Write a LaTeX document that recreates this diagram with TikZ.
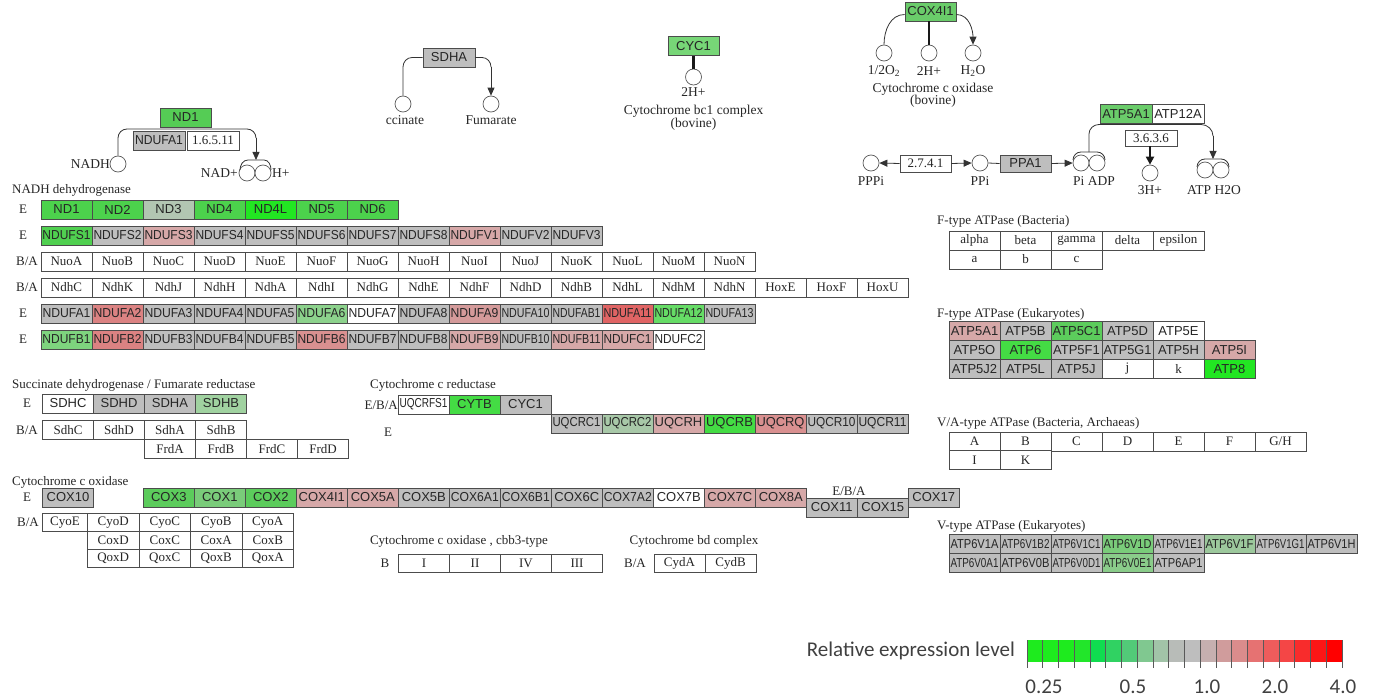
\documentclass[tikz,border=0pt]{standalone}
\usepackage{fontspec}
\usepackage{graphicx}
\setmainfont{Liberation Serif}
\newfontfamily\gsans{Liberation Sans}
\newfontfamily\lgdfont{Carlito}
\usetikzlibrary{arrows.meta}
\newcommand\fitw[1]{\sbox0{#1}\ifdim\wd0>48pt\relax\resizebox{48pt}{\height}{#1}\else#1\fi}
\newcommand\serf{\fontsize{13}{13}\selectfont}
\newcommand\cpdf{\fontsize{13.5}{13.5}\selectfont}
\definecolor{cGr}{HTML}{BEBEBE}
\definecolor{cG}{HTML}{4CD24C}
\definecolor{cGB}{HTML}{22E622}
\definecolor{cGB2}{HTML}{44DC44}
\definecolor{cG2}{HTML}{50D050}
\definecolor{cG3}{HTML}{66DC66}
\definecolor{cG4}{HTML}{5CCC5C}
\definecolor{cG5}{HTML}{7ACC7A}
\definecolor{cGL}{HTML}{8CD28C}
\definecolor{cGL2}{HTML}{7ED47E}
\definecolor{cGL3}{HTML}{A0D2A0}
\definecolor{cGL4}{HTML}{8ACC8A}
\definecolor{cGG}{HTML}{B2C6B2}
\definecolor{cGG2}{HTML}{A8C8A8}
\definecolor{cGG3}{HTML}{9CC89C}
\definecolor{cP}{HTML}{D6A8A8}
\definecolor{cP2}{HTML}{D49A9A}
\definecolor{cP3}{HTML}{D99090}
\definecolor{cR1}{HTML}{DB8282}
\definecolor{cR2}{HTML}{E06464}
\definecolor{cT1}{HTML}{55CC55}
\definecolor{cT2}{HTML}{77D677}
\definecolor{cT3}{HTML}{6ACC6A}
\newcommand\boxrow[6]{%
  \foreach \gname/\gcol [count=\gi from 0] in {#6} {%
    \node[#5, fill=\gcol, minimum width=#4pt] (#1\gi) at ({#2+#4/2+#4*\gi},#3) {\fitw{\gname}};
  }}
\begin{document}
\begin{tikzpicture}[x=1pt,y=-1pt,
  gbox/.style={draw=black!70, line width=0.8pt, minimum width=51pt, minimum height=19pt, inner sep=0pt, text=black!85, font=\gsans\fontsize{13}{13}\selectfont},
  wbox/.style={gbox, fill=white, font=\serf},
  lbl/.style={inner sep=0pt, text=black!85, font=\serf},
  clbl/.style={inner sep=0pt, text=black!85, font=\cpdf},
  cpd/.style={circle, draw=black!65, line width=0.7pt, minimum size=16pt, inner sep=0pt, fill=white},
  rxn/.style={draw=black!80, line width=0.8pt},
  arr/.style={-{Triangle[length=8pt,width=7pt]}},
  thk/.style={draw=black!90, line width=2.2pt}]
\useasboundingbox (0,0) rectangle (1373,698);

% ---------- NADH reaction ----------
\node[gbox, fill=cT1] (tND1) at (185.5,117.5) {ND1};
\node[gbox, fill=cGr, minimum width=52pt] (tNDUFA1) at (159,140.5) {\fitw{NDUFA1}};
\node[wbox, minimum width=52pt] (tEC1) at (213,140.5) {1.6.5.11};
\node[cpd] (cNADH) at (118,164) {};
\node[clbl, anchor=east] (lNADH) at (110,164) {NADH};
\node[cpd] (cNAD) at (247,173) {};
\node[cpd] (cH1) at (263,173) {};
\node[clbl, anchor=east] (lNAD) at (238,173) {NAD+};
\node[clbl, anchor=west] (lH1) at (272,173) {H+};
\coordinate (nA) at (256,138);
\coordinate (nB) at (256,160);
\draw[rxn] (cNADH.north) -- (118,138) to[out=90,in=180] (127,129) -- (247,129) to[out=0,in=90] (nA);
\draw[rxn,arr] (nA) -- (nB);
\draw[rxn] (240,170) to[out=90,in=180] (248,160) -- (264,160) to[out=0,in=90] (271,170);

% ---------- SDHA reaction ----------
\node[gbox, fill=cGr, minimum width=52pt] (tSDHA) at (449,57.5) {SDHA};
\node[cpd] (cSuc) at (403,104) {};
\node[cpd] (cFum) at (491,104) {};
\node[clbl] (lSuc) at (405,120) {ccinate};
\node[clbl] (lFum) at (491,120) {Fumarate};
\coordinate (sA) at (491,67);
\draw[rxn] (cSuc.north) -- (403,67) to[out=90,in=180] (412,57.5) -- (tSDHA.west);
\draw[rxn] (tSDHA.east) -- (482,57.5) to[out=0,in=90] (sA);
\draw[rxn,arr] (sA) -- (cFum.north);

% ---------- CYC1 ----------
\node[gbox, fill=cT2] (tCYC1) at (693.5,46) {CYC1};
\node[cpd] (c2H1) at (693.5,77) {};
\draw[thk] (tCYC1.south) -- (c2H1.north);
\node[clbl] (l2H1) at (693.5,92) {2H+};
\node[clbl] (lbc1) at (693.5,111) {Cytochrome bc1 complex};
\node[clbl] (lbov1) at (693.5,124) {(bovine)};

% ---------- COX4I1 ----------
\node[gbox, fill=cT3] (tCOX4) at (930.5,11.5) {COX4I1};
\node[cpd] (cO2) at (884,53) {};
\node[cpd] (c2H2) at (929,53) {};
\node[cpd] (cH2O) at (973,53) {};
\node[clbl] (lO2) at (884,71) {1/2O\textsubscript{2}};
\node[clbl] (l2H2) at (929,71) {2H+};
\node[clbl] (lH2O) at (973,71) {H\textsubscript{2}O};
\node[clbl] (lcox) at (933,89) {Cytochrome c oxidase};
\node[clbl] (lbov2) at (933,101) {(bovine)};
\draw[rxn] ([yshift=-3pt]tCOX4.west) to[out=180,in=90] (cO2.north);
\draw[thk] (tCOX4.south -| c2H2) -- (c2H2.north);
\draw[rxn,arr] ([yshift=-3pt]tCOX4.east) to[out=0,in=90] (cH2O.north);

% ---------- ATP synthesis ----------
\node[cpd] (cPPPi) at (871,163) {};
\node[clbl] (lPPPi) at (871,181) {PPPi};
\node[wbox, minimum height=17pt] (tEC2) at (925.5,163.5) {2.7.4.1};
\node[cpd] (cPPi) at (980,163) {};
\node[clbl] (lPPi) at (980,181) {PPi};
\node[gbox, fill=cGr, minimum height=17pt] (tPPA1) at (1025.5,163.5) {PPA1};
\node[cpd] (cPi) at (1081,163) {};
\node[cpd] (cADP) at (1097,163) {};
\node[clbl] (lPiADP) at (1094,181) {Pi ADP};
\node[gbox, fill=cT3, minimum width=52pt] (tATP5A1) at (1126,114) {\fitw{ATP5A1}};
\node[gbox, fill=white, minimum width=52pt] (tATP12A) at (1178,114) {\fitw{ATP12A}};
\node[wbox, minimum height=16pt, minimum width=52pt] (tEC3) at (1151,138) {3.6.3.6};
\node[cpd] (c3H) at (1150,173) {};
\node[clbl] (l3H) at (1150,190) {3H+};
\node[cpd] (cATP) at (1205,170) {};
\node[cpd] (cH2Ob) at (1221,170) {};
\node[clbl] (lATPH2O) at (1214,190) {ATP H2O};
\draw[rxn,arr] (tEC2.west) -- (cPPPi.east);
\draw[rxn,arr] (tEC2.east) -- (cPPi.west);
\draw[rxn] (cPPi.east) -- (tPPA1.west);
\draw[rxn,arr] (tPPA1.east) -- (cPi.west);
\coordinate (aA) at (1089,152);
\coordinate (aB) at (1213,136);
\coordinate (aC) at (1213,159);
\draw[rxn] (1073,160) to[out=90,in=180] (1081,152) -- (1097,152) to[out=0,in=90] (1105,160);
\draw[rxn] (aA) -- (1089,134) to[out=90,in=180] (1099,124.5) -- (1201,124.5) to[out=0,in=90] (aB);
\draw[rxn,arr] (aB) -- (aC);
\draw[rxn] (1197,167) to[out=90,in=180] (1205,159) -- (1221,159) to[out=0,in=90] (1229,167);
\draw[thk, -{Triangle[length=8pt,width=8pt]}] (tEC3.south -| c3H) -- (c3H.north);

% ---------- NADH dehydrogenase table ----------
\node[lbl, anchor=west] (hNADH) at (12,190) {NADH dehydrogenase};
\node[lbl] (rl1) at (23,209.5) {E};
\node[lbl] (rl2) at (23,235.5) {E};
\node[lbl] (rl3) at (27,261.5) {B/A};
\node[lbl] (rl4) at (27,287.5) {B/A};
\node[lbl] (rl5) at (23,313.5) {E};
\node[lbl] (rl6) at (23,339.5) {E};
\boxrow{nda}{41}{209.5}{51}{gbox}{ND1/cG, ND2/cG, ND3/cGG, ND4/cG, ND4L/cGB, ND5/cG, ND6/cG}
\boxrow{ndb}{41}{235.5}{51}{gbox}{NDUFS1/cG2, NDUFS2/cGr, NDUFS3/cP, NDUFS4/cGr, NDUFS5/cGr, NDUFS6/cGr, NDUFS7/cGr, NDUFS8/cGr, NDUFV1/cP, NDUFV2/cGr, NDUFV3/cGr}
\boxrow{ndc}{41}{261.5}{51}{wbox}{NuoA/white, NuoB/white, NuoC/white, NuoD/white, NuoE/white, NuoF/white, NuoG/white, NuoH/white, NuoI/white, NuoJ/white, NuoK/white, NuoL/white, NuoM/white, NuoN/white}
\boxrow{ndd}{41}{287.5}{51}{wbox}{NdhC/white, NdhK/white, NdhJ/white, NdhH/white, NdhA/white, NdhI/white, NdhG/white, NdhE/white, NdhF/white, NdhD/white, NdhB/white, NdhL/white, NdhM/white, NdhN/white, HoxE/white, HoxF/white, HoxU/white}
\boxrow{nde}{41}{313.5}{51}{gbox}{NDUFA1/cGr, NDUFA2/cR1, NDUFA3/cGr, NDUFA4/cGr, NDUFA5/cGr, NDUFA6/cGL, NDUFA7/white, NDUFA8/cGr, NDUFA9/cP2, NDUFA10/cGr, NDUFAB1/cGr, NDUFA11/cR2, NDUFA12/cG3, NDUFA13/cGr}
\boxrow{ndf}{41}{339.5}{51}{gbox}{NDUFB1/cGL2, NDUFB2/cR1, NDUFB3/cGr, NDUFB4/cGr, NDUFB5/cGr, NDUFB6/cP3, NDUFB7/cGr, NDUFB8/cGr, NDUFB9/cP, NDUFB10/cGr, NDUFB11/cP, NDUFC1/cP, NDUFC2/white}

% ---------- Succinate dehydrogenase ----------
\node[lbl, anchor=west] (hSDH) at (12,385) {Succinate dehydrogenase / Fumarate reductase};
\node[lbl] (sl1) at (27,403.5) {E};
\node[lbl] (sl2) at (27,430) {B/A};
\boxrow{sda}{42.5}{403.5}{51}{gbox}{SDHC/white, SDHD/cGr, SDHA/cGr, SDHB/cGL3}
\boxrow{sdb}{42.5}{430}{51}{wbox}{SdhC/white, SdhD/white, SdhA/white, SdhB/white}
\boxrow{sdc}{144.5}{449}{51}{wbox}{FrdA/white, FrdB/white, FrdC/white, FrdD/white}

% ---------- Cytochrome c reductase ----------
\node[lbl, anchor=west] (hRED) at (370,385) {Cytochrome c reductase};
\node[lbl, anchor=east] (ql1) at (398,405) {E/B/A};
\node[lbl] (ql2) at (388,432) {E};
\boxrow{qra}{398}{404.5}{51}{gbox}{UQCRFS1/white, CYTB/cGB2, CYC1/cGr}
\boxrow{qrb}{551}{423.5}{51}{gbox}{UQCRC1/cGr, UQCRC2/cGG2, UQCRH/cP, UQCRB/cGB2, UQCRQ/cP3, UQCR10/cGr, UQCR11/cGr}

% ---------- Cytochrome c oxidase ----------
\node[lbl, anchor=west] (hCOX) at (12,482) {Cytochrome c oxidase};
\node[lbl] (xl1) at (27,497.5) {E};
\node[lbl] (xl2) at (28,522.5) {B/A};
\node[gbox, fill=cGr] (cox10) at (68,497.5) {COX10};
\boxrow{cxa}{143.3}{497.5}{51}{gbox}{COX3/cG4, COX1/cG5, COX2/cG4, COX4I1/cP, COX5A/cP, COX5B/cGr, COX6A1/cGr, COX6B1/cGr, COX6C/cGr, COX7A2/cGr, COX7B/white, COX7C/cP, COX8A/cP}
\node[lbl] (xl3) at (849,491) {E/B/A};
\boxrow{cxb}{806.3}{507.5}{51}{gbox}{COX11/cGr, COX15/cGr}
\node[gbox, fill=cGr] (cox17) at (933.8,497.5) {COX17};
\node[wbox, minimum width=45pt, minimum height=18pt] (cyoE) at (65,522.5) {CyoE};
\boxrow{cya}{87.5}{522.5}{51.5}{wbox, minimum height=18pt}{CyoD/white, CyoC/white, CyoB/white, CyoA/white}
\boxrow{cyb}{87.5}{540.5}{51.5}{wbox, minimum height=18pt}{CoxD/white, CoxC/white, CoxA/white, CoxB/white}
\boxrow{cyc}{87.5}{558.5}{51.5}{wbox, minimum height=18pt}{QoxD/white, QoxC/white, QoxB/white, QoxA/white}

% ---------- cbb3 / bd ----------
\node[lbl] (hCBB) at (459,541) {Cytochrome c oxidase , cbb3-type};
\node[lbl] (bl1) at (385,563) {B};
\boxrow{cbb}{398.5}{563}{51}{wbox, minimum height=18pt}{I/white, II/white, IV/white, III/white}
\node[lbl] (hBD) at (694,541) {Cytochrome bd complex};
\node[lbl] (bl2) at (635,563) {B/A};
\boxrow{cyd}{654}{563}{51}{wbox, minimum height=18pt}{CydA/white, CydB/white}

% ---------- F-type ATPase ----------
\node[lbl, anchor=west] (hFB) at (937,221) {F-type ATPase (Bacteria)};
\boxrow{fba}{949}{240.5}{51}{wbox}{alpha/white, beta/white, gamma/white, delta/white, epsilon/white}
\boxrow{fbb}{949}{259.5}{51}{wbox}{a/white, b/white, c/white}
\node[lbl, anchor=west] (hFE) at (937,314) {F-type ATPase (Eukaryotes)};
\boxrow{fea}{949}{331}{51}{gbox}{ATP5A1/cP, ATP5B/cGr, ATP5C1/cG4, ATP5D/cGr, ATP5E/white}
\boxrow{feb}{949}{350}{51}{gbox}{ATP5O/cGr, ATP6/cGB2, ATP5F1/cGr, ATP5G1/cGr, ATP5H/cGr, ATP5I/cP}
\boxrow{fec}{949}{369}{51}{gbox}{ATP5J2/cGr, ATP5L/cGr, ATP5J/cGr}
\node[wbox] (fej) at (1127.5,369) {j};
\node[wbox] (fek) at (1178.5,369) {k};
\node[gbox, fill=cGB] (fe8) at (1229.5,369) {ATP8};

% ---------- V/A-type ATPase ----------
\node[lbl, anchor=west] (hVA) at (937,423) {V/A-type ATPase (Bacteria, Archaeas)};
\boxrow{vaa}{949}{441.5}{51}{wbox}{A/white, B/white, C/white, D/white, E/white, F/white}
\node[wbox] (vagh) at (1280.5,441.5) {G/H};
\boxrow{vab}{949}{460}{51}{wbox}{I/white, K/white}

% ---------- V-type ATPase ----------
\node[lbl, anchor=west] (hVE) at (937,526) {V-type ATPase (Eukaryotes)};
\boxrow{vea}{949}{544}{51}{gbox}{ATP6V1A/cGr, ATP6V1B2/cGr, ATP6V1C1/cGr, ATP6V1D/cG5, ATP6V1E1/cGr, ATP6V1F/cGG3, ATP6V1G1/cGr, ATP6V1H/cGr}
\boxrow{veb}{949}{563}{51}{gbox}{ATP6V0A1/cGr, ATP6V0B/cGr, ATP6V0D1/cGr, ATP6V0E1/cGL4, ATP6AP1/cGr}

% ---------- legend ----------
\node[font=\lgdfont\fontsize{21}{21}\selectfont, text=black!75, anchor=east, inner sep=0pt] (lgt) at (1015,651) {Relative expression level};
\foreach \hx [count=\li from 0] in {1EEB1E,1EEB1E,1EEB1E,22E62A,10DC50,30D262,52CA78,80C890,A2C4A8,B8BCB8,BEBEBE,C6B0B0,D09C9C,DA8C8C,E67272,EE5C5C,F44646,F82C2C,FC1616,FF0000} {
  \edef\tmpdef{\noexpand\definecolor{tmpc}{HTML}{\hx}}\tmpdef
  \fill[tmpc] ({1027+15.75*\li},640) rectangle ({1027+15.75*(\li+1)},662);
}
\foreach \li in {0,...,20} \draw[black!65, line width=0.8pt] ({1027+15.75*\li},640) -- ({1027+15.75*\li},668);
\foreach \lv/\lx [count=\lk] in {0.25/1044, 0.5/1133, 1.0/1207, 2.0/1275, 4.0/1343}
  \node[font=\lgdfont\fontsize{21}{21}\selectfont, text=black!75, inner sep=0pt] (lgv\lk) at (\lx,687) {\lv};
\end{tikzpicture}
\end{document}
